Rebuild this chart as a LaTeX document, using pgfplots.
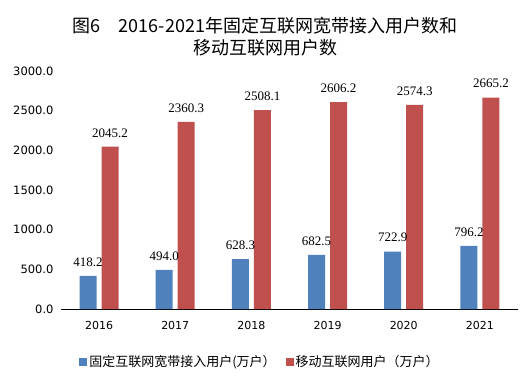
\documentclass[border=0pt]{standalone}
\usepackage{pgfplots}
\pgfplotsset{compat=1.18}
\usepackage{fontspec}
\newfontfamily\cjk{Noto Sans CJK SC}
\newfontfamily\tickf{DejaVu Sans}
\newfontfamily\datf{Liberation Serif}
\definecolor{cblue}{HTML}{4F81BD}
\definecolor{cred}{HTML}{C0504D}
\begin{document}
\begin{tikzpicture}
\begin{axis}[
  at={(0,0)}, anchor=south west,
  scale only axis, width=457bp, height=238bp,
  xmin=-0.5, xmax=5.5, ymin=0, ymax=3000,
  ybar=5bp, bar width=17bp,
  axis x line*=bottom, axis y line*=left,
  y axis line style={draw=none},
  x axis line style={black, line width=0.8pt},
  xtick={0,1,2,3,4,5},
  xticklabels={2016,2017,2018,2019,2020,2021},
  ytick={0,500,1000,1500,2000,2500,3000},
  major tick style={draw=none},
  /pgf/number format/assume math mode=true,
  yticklabel style={font=\tickf\fontsize{11.5bp}{13bp}\selectfont, xshift=-4bp,
    /pgf/number format/.cd, fixed, fixed zerofill, precision=1, 1000 sep={}},
  xticklabel style={font=\tickf\fontsize{11bp}{13bp}\selectfont, yshift=-5bp},
  scaled y ticks=false,
  nodes near coords,
  nodes near coords style={font=\datf\fontsize{13bp}{15bp}\selectfont, anchor=south, yshift=6bp,
    /pgf/number format/.cd, fixed, fixed zerofill, precision=1, 1000 sep={}},
  legend style={at={(0.4355,-0.223)}, anchor=center, legend columns=2, draw=none,
    font=\cjk\fontsize{13bp}{15bp}\selectfont,
    /tikz/every even column/.append style={column sep=8bp},
    nodes={inner sep=2bp}},
  legend image code/.code={\fill[#1] (0bp,-4bp) rectangle (8bp,4bp);},
  clip=false,
]
\addplot[fill=cblue, draw=none] coordinates {(0,418.2) (1,494.0) (2,628.3) (3,682.5) (4,722.9) (5,796.2)};
\addplot[fill=cred, draw=none] coordinates {(0,2045.2) (1,2360.3) (2,2508.1) (3,2606.2) (4,2574.3) (5,2665.2)};
\legend{固定互联网宽带接入用户(万户）,移动互联网用户（万户）}
\end{axis}
\node[anchor=base, font=\cjk\fontsize{18bp}{20bp}\selectfont, inner sep=0] at (204bp,276bp) {图6　2016-2021年固定互联网宽带接入用户数和};
\node[anchor=base, font=\cjk\fontsize{18bp}{20bp}\selectfont, inner sep=0] at (204bp,254bp) {移动互联网用户数};
\pgfresetboundingbox
\path[use as bounding box] (-61bp,-74bp) rectangle (467bp,309bp);
\end{tikzpicture}
\end{document}
